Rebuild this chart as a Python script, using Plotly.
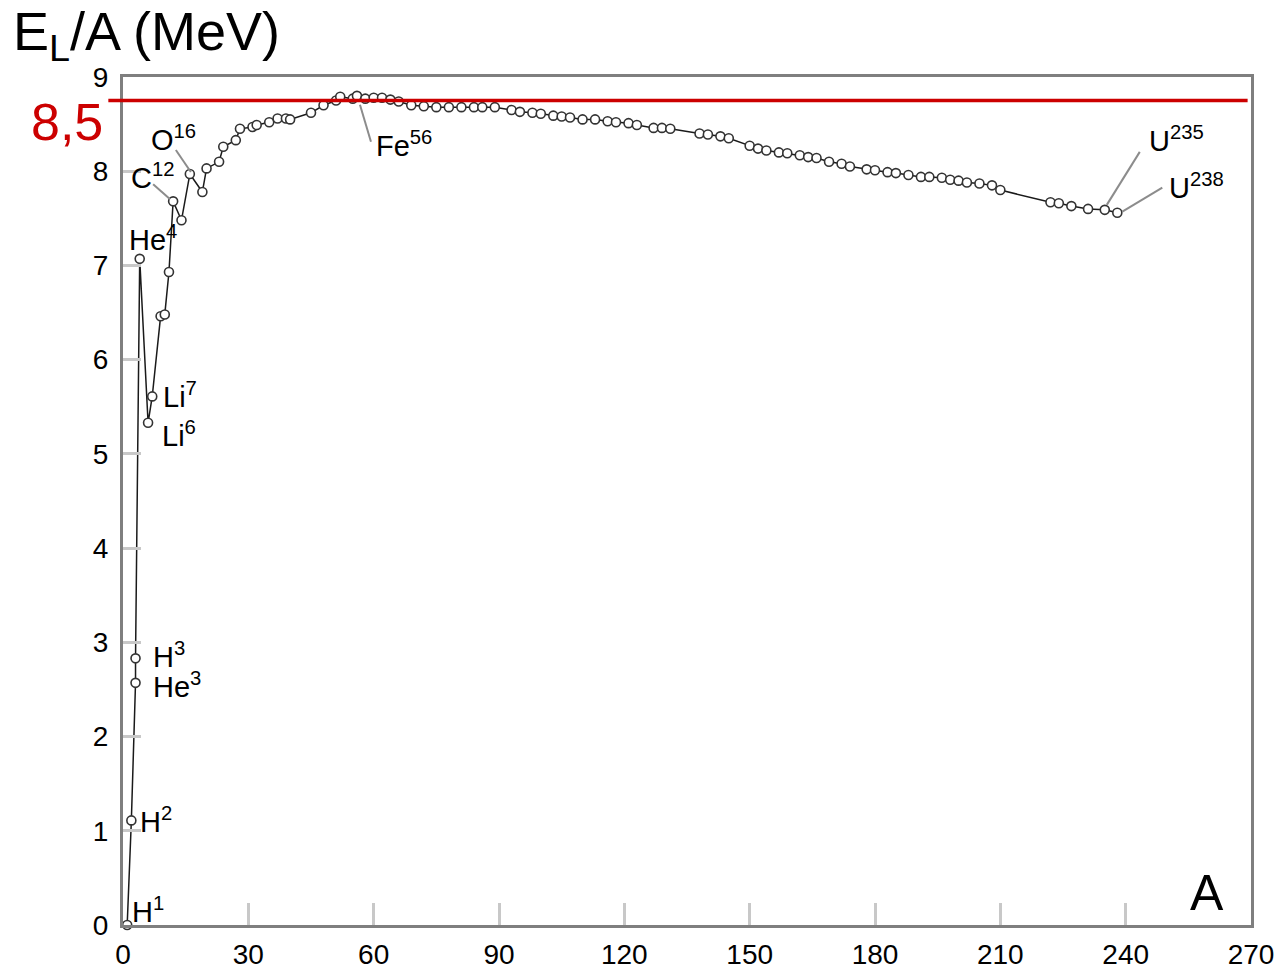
import plotly.graph_objects as go

# ---- data: mass number A and binding energy per nucleon (MeV) ----
mass_number = [1, 2, 3, 3, 4, 6, 7, 9, 10, 11, 12, 14, 16, 19, 20, 23, 24, 27, 28, 31,
               32, 35, 37, 39, 40, 45, 48, 51, 52, 55, 56, 58, 60, 62, 64, 66, 69, 72,
               75, 78, 81, 84, 86, 89, 93, 95, 98, 100, 103, 105, 107, 110, 113, 116,
               118, 121, 123, 127, 129, 131, 138, 140, 143, 145, 150, 152, 154, 157,
               159, 162, 164, 166, 169, 172, 174, 178, 180, 183, 185, 188, 191, 193,
               196, 198, 200, 202, 205, 208, 210, 222, 224, 227, 231, 235, 238]
binding_per_nucleon = [0.0, 1.11, 2.57, 2.83, 7.07, 5.33, 5.61, 6.46, 6.48, 6.93, 7.68,
                       7.48, 7.97, 7.78, 8.03, 8.10, 8.26, 8.33, 8.45, 8.47, 8.49, 8.52,
                       8.56, 8.56, 8.55, 8.62, 8.70, 8.75, 8.79, 8.77, 8.80, 8.77, 8.78,
                       8.78, 8.76, 8.74, 8.70, 8.69, 8.68, 8.68, 8.68, 8.68, 8.68, 8.68,
                       8.65, 8.63, 8.62, 8.61, 8.59, 8.58, 8.57, 8.55, 8.55, 8.53, 8.52,
                       8.51, 8.49, 8.46, 8.46, 8.45, 8.40, 8.39, 8.37, 8.35, 8.27, 8.24,
                       8.22, 8.20, 8.19, 8.17, 8.15, 8.14, 8.10, 8.08, 8.05, 8.02, 8.01,
                       7.99, 7.98, 7.96, 7.94, 7.94, 7.93, 7.91, 7.90, 7.88, 7.87, 7.85,
                       7.80, 7.67, 7.66, 7.63, 7.60, 7.59, 7.56]

# nuclide labels: (text, index into the series)
label_texts = ["H<sup>1</sup>", "H<sup>2</sup>", "He<sup>3</sup>", "H<sup>3</sup>",
               "He<sup>4</sup>", "Li<sup>6</sup>", "Li<sup>7</sup>", "C<sup>12</sup>",
               "O<sup>16</sup>", "Fe<sup>56</sup>", "U<sup>235</sup>", "U<sup>238</sup>"]
label_index = [0, 1, 2, 3, 4, 5, 6, 10, 12, 30, 93, 94]

x_ticks = [0, 30, 60, 90, 120, 150, 180, 210, 240, 270]
y_ticks = [0, 1, 2, 3, 4, 5, 6, 7, 8, 9]
ref_level = 8.75
ref_text = "8,5"
y_title = "E<sub>L</sub>/A (MeV)"
x_title = "A"

# ---- styling / placement ----
# per label: xshift, yshift (text left edge / middle relative to point), leader (dx0,dy0,dx1,dy1) or None
label_place = [
    (3, 15, None),
    (7, 0, None),
    (15, -2, None),
    (15, 3, None),
    (-13, 21, None),
    (12, -11, None),
    (9, 1, None),
    (-44, 25, (-3, 2, -20, 17)),
    (-41, 36, (-14, 24, 1, 2)),
    (17, -48, (3, -9, 14, -46)),
    (42, 71, (2, 5, 35, 58)),
    (50, 27, (5, 1, 45, 25)),
]

sans = "Liberation Sans, Arial, sans-serif"

fig = go.Figure()
fig.add_trace(go.Scatter(
    x=mass_number, y=binding_per_nucleon, mode="lines+markers",
    line=dict(color="#1a1a1a", width=1.5),
    marker=dict(symbol="circle", size=9, color="white",
                line=dict(color="#333333", width=1.6)),
    cliponaxis=False, showlegend=False, hoverinfo="x+y",
))

annotations = []
shapes = []
for txt, idx, (xs, ys, leader) in zip(label_texts, label_index, label_place):
    ax_, ay_ = mass_number[idx], binding_per_nucleon[idx]
    annotations.append(dict(x=ax_, y=ay_, xref="x", yref="y", text=txt, showarrow=False,
                            xanchor="left", yanchor="middle", xshift=xs, yshift=ys,
                            font=dict(family=sans, size=29, color="black")))
    if leader is not None:
        dx0, dy0, dx1, dy1 = leader
        shapes.append(dict(type="line", xref="x", yref="y",
                           xsizemode="pixel", ysizemode="pixel",
                           xanchor=ax_, yanchor=ay_, x0=dx0, y0=dy0, x1=dx1, y1=dy1,
                           line=dict(color="#8c8c8c", width=2)))

# reference line
shapes.append(dict(type="line", xref="paper", yref="y", x0=-0.013, x1=0.997,
                   y0=ref_level, y1=ref_level, line=dict(color="#cc0000", width=3.5),
                   layer="above"))
annotations.append(dict(x=-0.016, y=ref_level, xref="paper", yref="y", text=ref_text,
                        showarrow=False, xanchor="right", yanchor="middle", yshift=-21,
                        font=dict(family=sans, size=52, color="#cc0000")))
# axis titles
annotations.append(dict(x=-0.099, y=1.05, xref="paper", yref="paper", text=y_title,
                        showarrow=False, xanchor="left", yanchor="middle",
                        font=dict(family=sans, size=54, color="black")))
annotations.append(dict(x=0.961, y=0.038, xref="paper", yref="paper", text=x_title,
                        showarrow=False, xanchor="center", yanchor="middle",
                        font=dict(family=sans, size=50, color="black")))

axis_common = dict(showline=True, linecolor="#7f7f7f", linewidth=3, mirror=True,
                   showgrid=False, zeroline=False, ticks="inside", tickwidth=3,
                   tickcolor="#c8c8c8", automargin=False)

fig.update_layout(
    width=1280, height=973,
    margin=dict(l=123, r=29, t=77, b=48),
    paper_bgcolor="white", plot_bgcolor="white",
    xaxis=dict(range=[0, 270], tickvals=x_ticks, ticktext=[str(v) for v in x_ticks],
               ticklen=22, ticklabelstandoff=2,
               tickfont=dict(family=sans, size=28, color="black"), **axis_common),
    yaxis=dict(range=[0, 9], tickvals=y_ticks, ticktext=[str(v) for v in y_ticks],
               ticklen=18, ticklabelstandoff=6,
               tickfont=dict(family=sans, size=28, color="black"), **axis_common),
    annotations=annotations, shapes=shapes,
)

fig.write_html("out.html", config={"displayModeBar": False},
               post_script="document.body.style.margin='0';document.body.style.overflow='hidden';")
